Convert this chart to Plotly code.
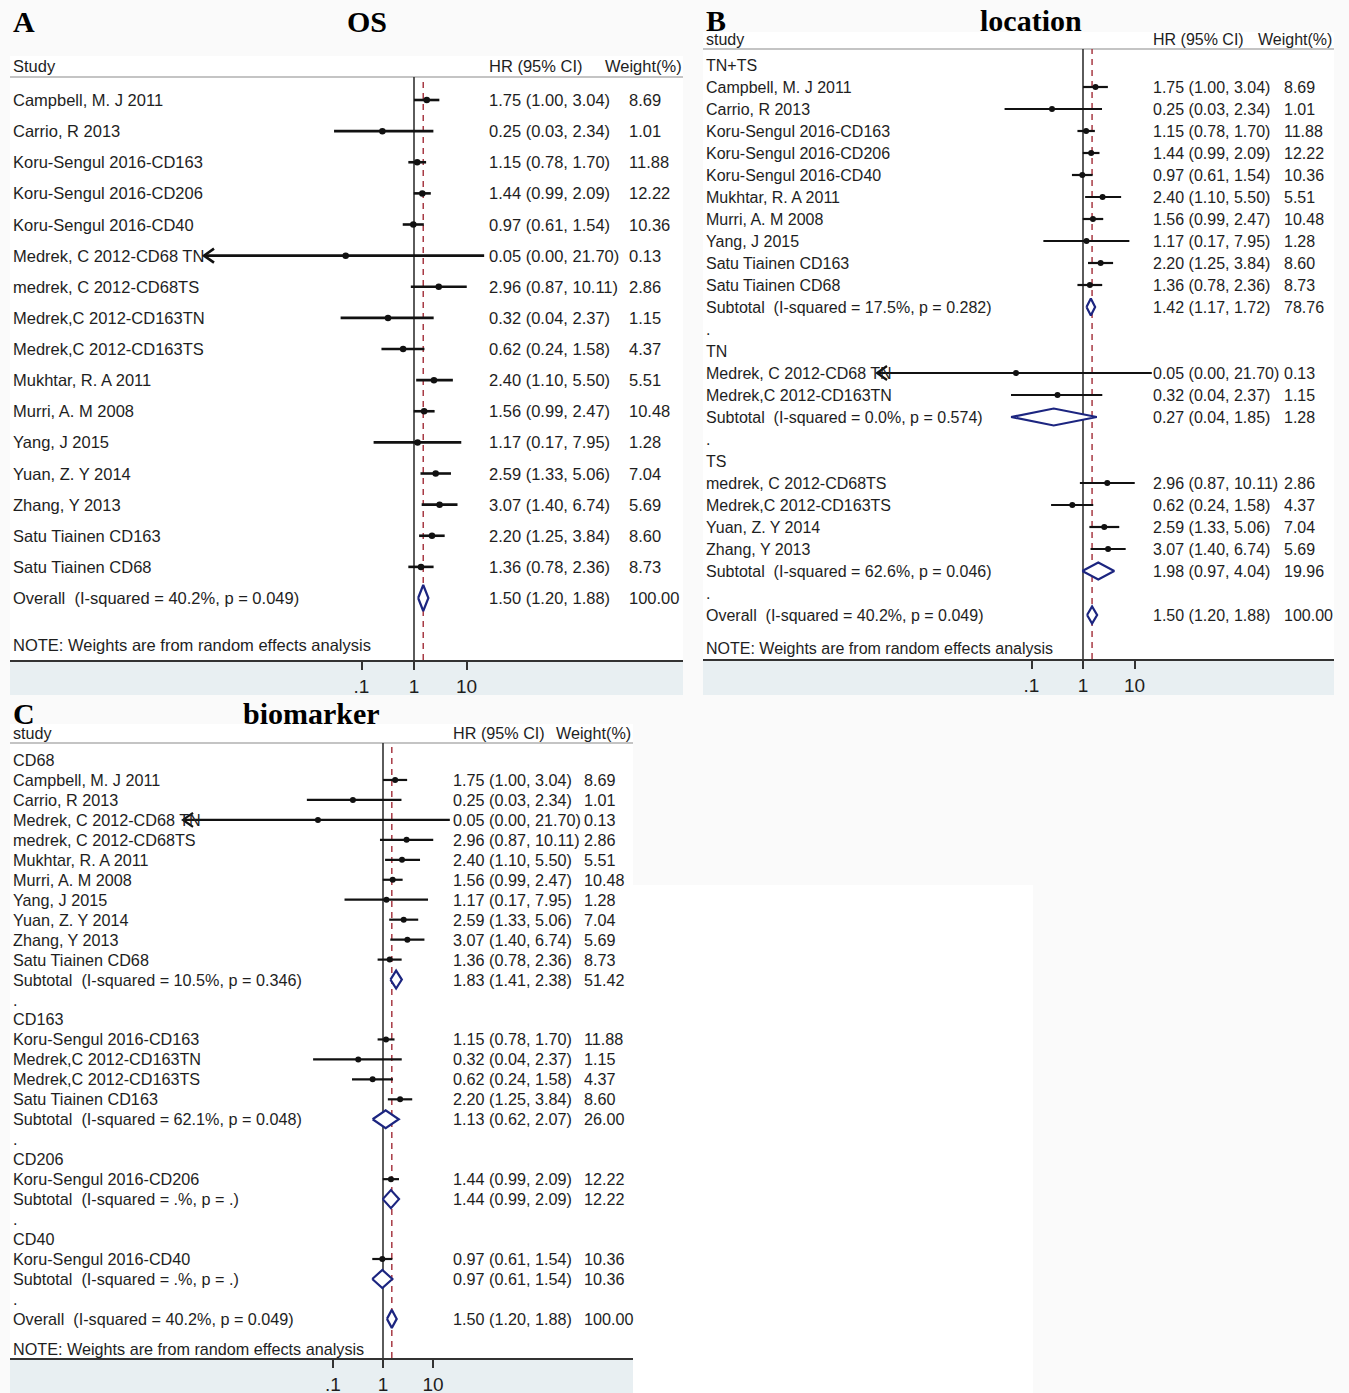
import math
import plotly.graph_objects as go

W, H = 1349, 1393

# ---- study-level hazard ratios (random-effects meta-analysis) ----
study = [
    "Campbell, M. J 2011", "Carrio, R 2013", "Koru-Sengul 2016-CD163",
    "Koru-Sengul 2016-CD206", "Koru-Sengul 2016-CD40", "Medrek, C 2012-CD68 TN",
    "medrek, C 2012-CD68TS", "Medrek,C 2012-CD163TN", "Medrek,C 2012-CD163TS",
    "Mukhtar, R. A 2011", "Murri, A. M 2008", "Yang, J 2015", "Yuan, Z. Y 2014",
    "Zhang, Y 2013", "Satu Tiainen CD163", "Satu Tiainen CD68",
]
hr = [1.75, 0.25, 1.15, 1.44, 0.97, 0.05, 2.96, 0.32, 0.62, 2.40, 1.56, 1.17, 2.59, 3.07, 2.20, 1.36]
ci_lo = [1.00, 0.03, 0.78, 0.99, 0.61, 0.00, 0.87, 0.04, 0.24, 1.10, 0.99, 0.17, 1.33, 1.40, 1.25, 0.78]
ci_hi = [3.04, 2.34, 1.70, 2.09, 1.54, 21.70, 10.11, 2.37, 1.58, 5.50, 2.47, 7.95, 5.06, 6.74, 3.84, 2.36]
weight = [8.69, 1.01, 11.88, 12.22, 10.36, 0.13, 2.86, 1.15, 4.37, 5.51, 10.48, 1.28, 7.04, 5.69, 8.60, 8.73]
location = ["TN+TS", "TN+TS", "TN+TS", "TN+TS", "TN+TS", "TN", "TS", "TN", "TS",
            "TN+TS", "TN+TS", "TN+TS", "TS", "TS", "TN+TS", "TN+TS"]
biomarker = ["CD68", "CD68", "CD163", "CD206", "CD40", "CD68", "CD68", "CD163", "CD163",
             "CD68", "CD68", "CD68", "CD68", "CD68", "CD163", "CD68"]

# ---- pooled estimates ----
overall_i2, overall_p = "40.2%", "0.049"
overall_hr, overall_lo, overall_hi, overall_w = 1.50, 1.20, 1.88, 100.00

loc_groups = ["TN+TS", "TN", "TS"]
loc_i2 = ["17.5%", "0.0%", "62.6%"]
loc_p = ["0.282", "0.574", "0.046"]
loc_hr = [1.42, 0.27, 1.98]
loc_lo = [1.17, 0.04, 0.97]
loc_hi = [1.72, 1.85, 4.04]
loc_w = [78.76, 1.28, 19.96]

bio_groups = ["CD68", "CD163", "CD206", "CD40"]
bio_i2 = ["10.5%", "62.1%", ".%", ".%"]
bio_p = ["0.346", "0.048", ".", "."]
bio_hr = [1.83, 1.13, 1.44, 0.97]
bio_lo = [1.41, 0.62, 0.99, 0.61]
bio_hi = [2.38, 2.07, 2.09, 1.54]
bio_w = [51.42, 26.00, 12.22, 10.36]

tick_vals = [0.1, 1, 10]
tick_text = [".1", "1", "10"]
ci_floor = 1e-4          # CIs below this are clipped and drawn with an arrow

SANS = "Liberation Sans, Arial, sans-serif"
SERIF = "Liberation Serif, Times New Roman, serif"
TXT = "#1e1e1e"
NAVY = "#1c2580"
RED = "#a83a44"
BAND = "#e8eff2"


def study_row(i):
    return dict(kind="study", label=study[i], hr=hr[i], lo=ci_lo[i], hi=ci_hi[i], w=weight[i])


def pooled_row(kind, i2, p, h, l, u, w):
    name = "Overall" if kind == "overall" else "Subtotal"
    return dict(kind=kind, label=f"{name}\u00a0 (I-squared = {i2}, p = {p})",
                hr=h, lo=l, hi=u, w=w)


def overall_row():
    return pooled_row("overall", overall_i2, overall_p, overall_hr, overall_lo, overall_hi, overall_w)


def grouped_rows(groups, member, i2s, ps, hrs, los, his, ws):
    rows = []
    for g, name in enumerate(groups):
        rows.append(dict(kind="header", label=name))
        rows += [study_row(i) for i in range(len(study)) if member[i] == name]
        rows.append(pooled_row("sub", i2s[g], ps[g], hrs[g], los[g], his[g], ws[g]))
        rows.append(dict(kind="blank", label="."))
    rows.append(overall_row())
    return rows


rows_a = [study_row(i) for i in range(len(study))] + [overall_row()]
rows_b = grouped_rows(loc_groups, location, loc_i2, loc_p, loc_hr, loc_lo, loc_hi, loc_w)
rows_c = grouped_rows(bio_groups, biomarker, bio_i2, bio_p, bio_hr, bio_lo, bio_hi, bio_w)

panels = [
    dict(letter="A", title="OS", rows=rows_a, ax="", x0=10, x1=683, one=414, dec=52.5,
         first=100, step=31.125, axis=660, rule=77, top=56, band=695, head_y=66,
         head="Study", font=16.5, name_x=12, hr_x=488, w_x=628, hr_head=488, w_head=604,
         title_y=22, title_cx=367, letter_x=12, dia=13, dot=6.5, lw=2.6),
    dict(letter="B", title="location", rows=rows_b, ax="2", x0=703, x1=1334, one=1083, dec=51.5,
         first=65, step=22.0, axis=659, rule=49, top=32, band=695, head_y=40,
         head="study", font=16, name_x=705, hr_x=1152, w_x=1283, hr_head=1152, w_head=1257,
         title_y=21, title_cx=1031, letter_x=705, dia=8.5, dot=6, lw=2.2),
    dict(letter="C", title="biomarker", rows=rows_c, ax="3", x0=10, x1=633, one=383, dec=50.0,
         first=760, step=19.96, axis=1358, rule=743, top=724, band=1393, head_y=733,
         head="study", font=16.2, name_x=12, hr_x=452, w_x=583, hr_head=452, w_head=555,
         title_y=713, title_cx=311, letter_x=12, dia=9, dot=6, lw=2.2),
]

fig = go.Figure()
shapes = []
annotations = []
layout = {}


def px(x):
    return x / W


def py(y):
    return max(0.0, 1 - y / H)


# faint white patch in the empty lower-right area
shapes.append(dict(type="rect", xref="paper", yref="paper", x0=px(633), x1=px(1033),
                   y0=0, y1=py(885), fillcolor="#ffffff", line_width=0, layer="below"))

for P in panels:
    xa, ya = "x" + P["ax"], "y" + P["ax"]
    xkey, ykey = "xaxis" + P["ax"], "yaxis" + P["ax"]
    step = P["step"]
    rows = P["rows"]

    # axes: log HR scale across the whole panel width, row index vertically
    layout[xkey] = dict(
        type="log", domain=[px(P["x0"]), px(P["x1"])], anchor=ya, automargin=False,
        range=[(P["x0"] - P["one"]) / P["dec"], (P["x1"] - P["one"]) / P["dec"]],
        tickvals=tick_vals, ticktext=tick_text, ticks="outside", ticklen=8, tickwidth=2,
        tickcolor="#333", showline=True, linecolor="#333", linewidth=2, showgrid=False,
        zeroline=False, tickfont=dict(family=SANS, size=19, color=TXT),
        ticklabelstandoff=0, fixedrange=True,
    )
    layout[ykey] = dict(
        domain=[py(P["axis"]), py(P["rule"])], anchor=xa, automargin=False,
        range=[(P["axis"] - P["first"]) / step, (P["rule"] - P["first"]) / step],
        visible=False, showgrid=False, zeroline=False, fixedrange=True,
    )

    # panel backgrounds
    shapes.append(dict(type="rect", xref="paper", yref="paper", x0=px(P["x0"]), x1=px(P["x1"]),
                       y0=py(P["axis"]), y1=py(P["top"]), fillcolor="#ffffff", line_width=0,
                       layer="below"))
    shapes.append(dict(type="rect", xref="paper", yref="paper", x0=px(P["x0"]), x1=px(P["x1"]),
                       y0=py(P["band"]), y1=py(P["axis"]), fillcolor=BAND, line_width=0,
                       layer="below"))
    # header rule
    shapes.append(dict(type="line", xref="paper", yref="paper", x0=px(P["x0"]), x1=px(P["x1"]),
                       y0=py(P["rule"]), y1=py(P["rule"]), line=dict(color="#c4c4c4", width=2),
                       layer="below"))
    # null line and overall-effect line
    shapes.append(dict(type="line", xref=xa, yref="paper", x0=1, x1=1,
                       y0=py(P["axis"]), y1=py(P["rule"]), line=dict(color="#333", width=1.6),
                       layer="below"))
    shapes.append(dict(type="line", xref=xa, yref="paper", x0=overall_hr, x1=overall_hr,
                       y0=py(P["axis"]), y1=py(P["rule"]),
                       line=dict(color=RED, width=1.5, dash="6px,5px"), layer="below"))

    ci_x, ci_y, pt_x, pt_y, ar_x, ar_y, dm_x, dm_y = [], [], [], [], [], [], [], []
    arm_dx = 10 ** (10 / P["dec"])
    arm_dy = 7 / step
    dh = P["dia"] / step
    for k, r in enumerate(rows):
        if r["kind"] == "study":
            lo = max(r["lo"], ci_floor)
            ci_x += [lo, r["hi"], None]
            ci_y += [k, k, None]
            pt_x.append(r["hr"])
            pt_y.append(k)
            if r["lo"] < ci_floor:
                ar_x += [ci_floor * arm_dx, ci_floor, ci_floor * arm_dx, None]
                ar_y += [k - arm_dy, k, k + arm_dy, None]
        elif r["kind"] in ("sub", "overall"):
            dm_x += [r["lo"], r["hr"], r["hi"], r["hr"], r["lo"], None]
            dm_y += [k, k - dh, k, k + dh, k, None]

    fig.add_trace(go.Scatter(x=ci_x, y=ci_y, xaxis=xa, yaxis=ya, mode="lines",
                             line=dict(color="#111", width=P["lw"]), hoverinfo="skip"))
    fig.add_trace(go.Scatter(x=ar_x, y=ar_y, xaxis=xa, yaxis=ya, mode="lines",
                             line=dict(color="#111", width=P["lw"]), hoverinfo="skip"))
    fig.add_trace(go.Scatter(x=pt_x, y=pt_y, xaxis=xa, yaxis=ya, mode="markers",
                             marker=dict(color="#111", size=P["dot"], symbol="circle"),
                             hoverinfo="skip"))
    fig.add_trace(go.Scatter(x=dm_x, y=dm_y, xaxis=xa, yaxis=ya, mode="lines", fill="toself",
                             fillcolor="#ffffff", line=dict(color=NAVY, width=2.2),
                             hoverinfo="skip"))

    font = dict(family=SANS, size=P["font"], color=TXT)

    def text(x, y, s, yref="paper", f=font):
        annotations.append(dict(x=x, y=y, xref="paper", yref=yref, text=s, showarrow=False,
                                xanchor="left", yanchor="middle", font=f, borderpad=0))

    # column headers
    text(px(P["name_x"]), py(P["head_y"]), P["head"])
    text(px(P["hr_head"]), py(P["head_y"]), "HR (95% CI)")
    text(px(P["w_head"]), py(P["head_y"]), "Weight(%)")

    # row labels and numeric columns
    for k, r in enumerate(rows):
        text(px(P["name_x"]), k, r["label"], yref=ya)
        if r["kind"] in ("study", "sub", "overall"):
            text(px(P["hr_x"]), k, f"{r['hr']:.2f} ({r['lo']:.2f}, {r['hi']:.2f})", yref=ya)
            text(px(P["w_x"]), k, f"{r['w']:.2f}", yref=ya)
    text(px(P["name_x"]), len(rows) - 1 + 1.5, "NOTE: Weights are from random effects analysis",
         yref=ya)

    # panel letter and title
    tfont = dict(family=SERIF, size=30, color="#000")
    annotations.append(dict(x=px(P["letter_x"]), y=py(P["title_y"]), xref="paper", yref="paper",
                            text="<b>" + P["letter"] + "</b>", showarrow=False, xanchor="left",
                            yanchor="middle", font=tfont, borderpad=0))
    annotations.append(dict(x=px(P["title_cx"]), y=py(P["title_y"]), xref="paper", yref="paper",
                            text="<b>" + P["title"] + "</b>", showarrow=False, xanchor="center",
                            yanchor="middle", font=tfont, borderpad=0))

fig.update_layout(
    width=W, height=H, margin=dict(l=0, r=0, t=0, b=0, pad=0, autoexpand=False),
    paper_bgcolor="#fafafa", plot_bgcolor="rgba(0,0,0,0)", showlegend=False,
    shapes=shapes, annotations=annotations, **layout,
)

fig.write_html("out.html")
